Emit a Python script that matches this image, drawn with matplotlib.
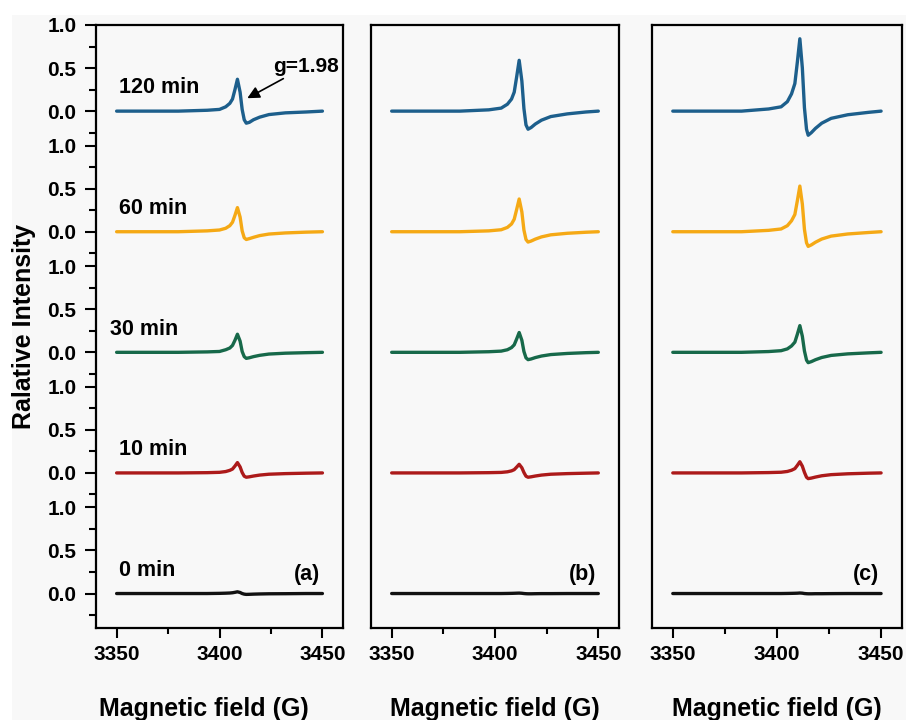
import matplotlib
matplotlib.use("Agg")
import matplotlib.pyplot as plt
from matplotlib.ticker import FixedLocator
from matplotlib.patches import Rectangle

plt.rcParams['font.family'] = ['Liberation Sans', 'DejaVu Sans']
plt.rcParams['font.weight'] = 'bold'

# field grids (G) for each panel
field_a = [3350, 3380, 3394, 3400, 3403, 3405, 3406.3, 3407.5, 3408.7, 3410,
           3411, 3412, 3413, 3414.5, 3416.5, 3419.5, 3424, 3432, 3442, 3450]
field_b = [3350, 3383, 3397, 3403, 3406, 3408, 3409.3, 3410.5, 3411.7, 3413,
           3414, 3415, 3416, 3417.5, 3419.5, 3422.5, 3427, 3435, 3444, 3450]
field_c = [3350, 3383, 3396, 3402, 3405, 3407, 3408.6, 3409.8, 3411, 3412.2,
           3413.2, 3414.2, 3415, 3416.5, 3418.5, 3421.5, 3426, 3434, 3444, 3450]

times = ["0 min", "10 min", "30 min", "60 min", "120 min"]
colors = ["#111111", "#ac1a1a", "#17694a", "#f5a915", "#1d5f8c"]
offsets = [0.0, 1.4, 2.8, 4.2, 5.6]

# panel (a)
a_0 = [0, 0, 0, 0.002, 0.004, 0.006, 0.009, 0.014, 0.02, 0.012, 0, -0.007, -0.01, -0.009, -0.007, -0.005, -0.003, -0.002, 0, 0]
a_10 = [0, 0, 0.003, 0.007, 0.016, 0.03, 0.045, 0.08, 0.12, 0.07, 0.005, -0.038, -0.05, -0.045, -0.036, -0.025, -0.015, -0.008, -0.003, 0]
a_30 = [0, 0, 0.005, 0.01, 0.03, 0.05, 0.08, 0.14, 0.21, 0.13, 0.01, -0.05, -0.07, -0.063, -0.05, -0.035, -0.02, -0.01, -0.004, 0]
a_60 = [0, 0, 0.01, 0.02, 0.04, 0.07, 0.11, 0.19, 0.28, 0.17, 0.01, -0.07, -0.09, -0.08, -0.065, -0.045, -0.027, -0.014, -0.005, 0]
a_120 = [0, 0, 0.01, 0.02, 0.05, 0.09, 0.14, 0.25, 0.37, 0.22, 0.02, -0.1, -0.14, -0.13, -0.1, -0.07, -0.04, -0.02, -0.01, 0]

# panel (b)
b_0 = [0, 0, 0, 0, 0.001, 0.002, 0.003, 0.004, 0.005, 0.003, 0, -0.002, -0.003, -0.003, -0.002, -0.001, -0.001, 0, 0, 0]
b_10 = [0, 0, 0.003, 0.006, 0.013, 0.024, 0.038, 0.068, 0.10, 0.06, 0.005, -0.038, -0.05, -0.045, -0.036, -0.025, -0.015, -0.008, -0.003, 0]
b_30 = [0, 0, 0.007, 0.014, 0.03, 0.055, 0.087, 0.156, 0.23, 0.14, 0.01, -0.064, -0.085, -0.077, -0.061, -0.043, -0.026, -0.013, -0.004, 0]
b_60 = [0, 0, 0.01, 0.023, 0.05, 0.09, 0.145, 0.26, 0.38, 0.23, 0.02, -0.09, -0.12, -0.108, -0.086, -0.06, -0.036, -0.018, -0.006, 0]
b_120 = [0, 0, 0.015, 0.035, 0.08, 0.14, 0.22, 0.4, 0.59, 0.35, 0.03, -0.16, -0.21, -0.19, -0.15, -0.105, -0.063, -0.032, -0.01, 0]

# panel (c)
c_0 = [0, 0, 0, 0, 0.001, 0.002, 0.003, 0.004, 0.006, 0.004, 0, -0.002, -0.003, -0.003, -0.002, -0.002, -0.001, 0, 0, 0]
c_10 = [0, 0, 0.004, 0.008, 0.017, 0.031, 0.05, 0.088, 0.13, 0.078, 0.007, -0.05, -0.066, -0.06, -0.048, -0.033, -0.02, -0.01, -0.003, 0]
c_30 = [0, 0, 0.009, 0.019, 0.04, 0.074, 0.118, 0.21, 0.31, 0.186, 0.016, -0.09, -0.12, -0.108, -0.086, -0.06, -0.036, -0.018, -0.006, 0]
c_60 = [0, 0, 0.016, 0.032, 0.07, 0.127, 0.2, 0.36, 0.53, 0.32, 0.027, -0.128, -0.17, -0.153, -0.122, -0.085, -0.051, -0.026, -0.009, 0]
c_120 = [0, 0, 0.025, 0.05, 0.11, 0.2, 0.32, 0.57, 0.84, 0.5, 0.04, -0.21, -0.28, -0.25, -0.2, -0.14, -0.084, -0.042, -0.014, 0]

panels = [
    ("(a)", field_a, [a_0, a_10, a_30, a_60, a_120]),
    ("(b)", field_b, [b_0, b_10, b_30, b_60, b_120]),
    ("(c)", field_c, [c_0, c_10, c_30, c_60, c_120]),
]
lefts = [0.106, 0.4095, 0.7196]
widths = [0.2726, 0.2737, 0.2759]

bg = "#f8f8f8"
fig = plt.figure(figsize=(9.06, 7.2), dpi=100, facecolor="white")
# the grey backdrop of the original image
fig.patches.append(Rectangle((12 / 906, 0), 1, 1 - 15 / 720, transform=fig.transFigure,
                             facecolor=bg, edgecolor="none", zorder=-10))

for i, (tag, field, traces) in enumerate(panels):
    ax = fig.add_axes([lefts[i], 0.1278, widths[i], 0.8375], facecolor=bg)
    for k, tr in enumerate(traces):
        ax.plot(field, [v + offsets[k] for v in tr], color=colors[k], lw=2.4,
                solid_capstyle="round", solid_joinstyle="round")
    ax.set_xlim(3340, 3460)
    ax.set_ylim(-0.4, 6.6)
    ax.set_xticks([3350, 3400, 3450])
    ax.xaxis.set_minor_locator(FixedLocator([3375, 3425]))
    ax.tick_params(axis="x", which="major", direction="out", length=7, width=1.5,
                   labelsize=15, pad=5)
    ax.tick_params(axis="x", which="minor", direction="out", length=4.5, width=1.5)
    for s in ax.spines.values():
        s.set_linewidth(1.6)
    ax.set_xlabel("Magnetic field (G)", fontsize=18, fontweight="bold", labelpad=24)
    ax.text(3449, 0.22, tag, fontsize=15.5, fontweight="bold", ha="right", va="center")

    if i == 0:
        ax.xaxis.label.set_x(0.435)
        major = []
        labels = []
        minor = []
        for off in offsets:
            major += [off, off + 0.5, off + 1.0]
            labels += ["0.0", "0.5", "1.0"]
            minor += [off - 0.25, off + 0.25, off + 0.75]
        ax.set_yticks(major)
        ax.set_yticklabels(labels)
        ax.yaxis.set_minor_locator(FixedLocator(minor))
        ax.tick_params(axis="y", which="major", direction="out", length=8, width=1.5,
                       labelsize=15, pad=6)
        ax.tick_params(axis="y", which="minor", direction="out", length=5, width=1.5)
        ax.set_ylabel("Ralative Intensity", fontsize=18, fontweight="bold", labelpad=8)
        for k, t in enumerate(times):
            x0 = 3347 if t == "30 min" else 3351
            ax.text(x0, offsets[k] + 0.27, t, fontsize=15.5, fontweight="bold",
                    ha="left", va="center")
        ax.annotate("g=1.98", xy=(3413.5, 5.75), xytext=(3426, 6.12),
                    fontsize=15, fontweight="bold", va="center", ha="left",
                    arrowprops=dict(arrowstyle="-|>", color="black", lw=1.2,
                                    mutation_scale=18, shrinkA=0, shrinkB=0))
    else:
        ax.set_yticks([])

fig.savefig("out.png", dpi=100, facecolor="white")
